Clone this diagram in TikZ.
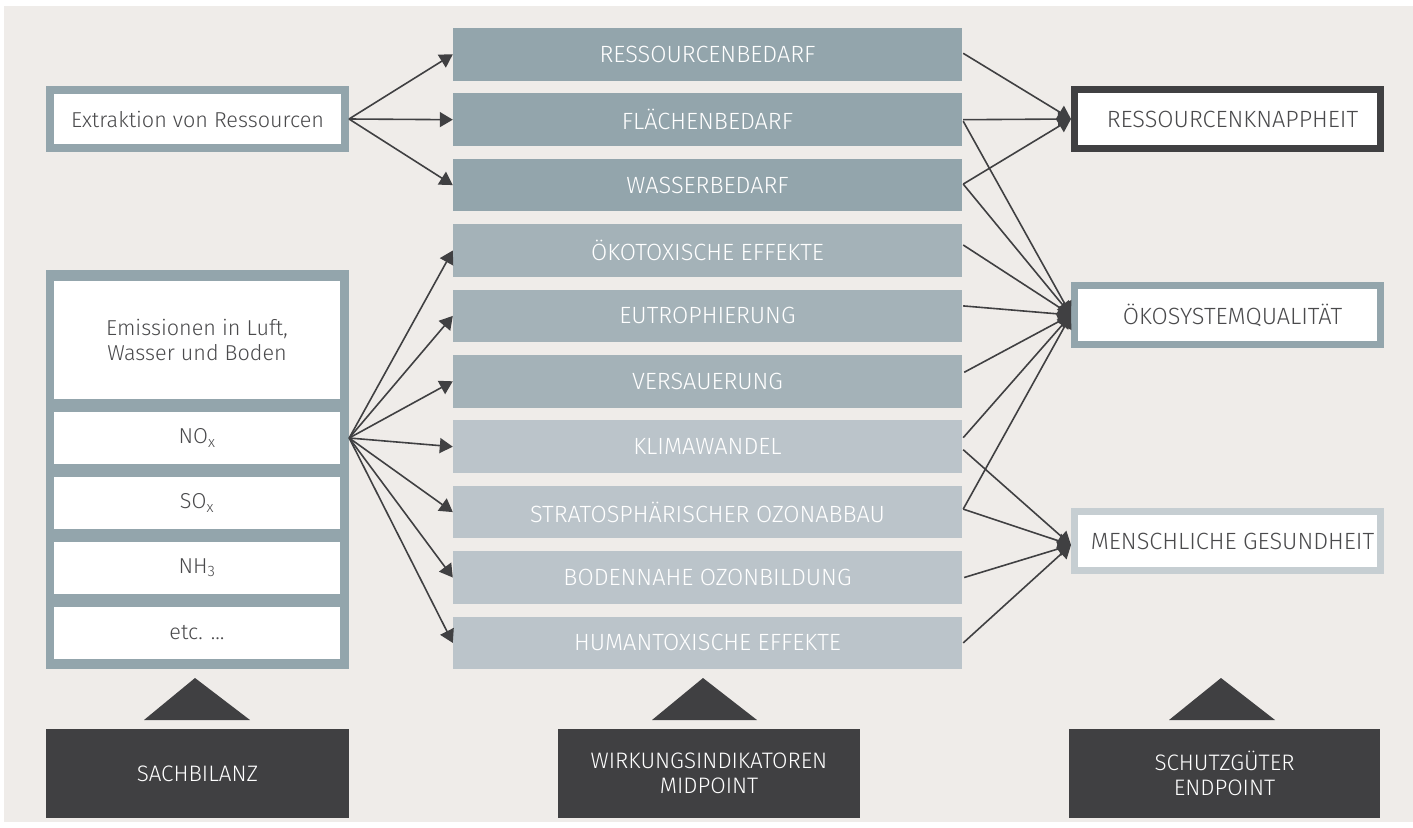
\documentclass[tikz,border=0pt]{standalone}
\usepackage{fontspec}
\setmainfont{Fira Sans Light}
\usetikzlibrary{arrows.meta,calc}
\definecolor{bg}{HTML}{EFECE9}
\definecolor{ca}{HTML}{93A5AC}
\definecolor{cb}{HTML}{A4B2B8}
\definecolor{cc}{HTML}{BBC4CA}
\definecolor{cd}{HTML}{C6CED2}
\definecolor{dk}{HTML}{404042}
\definecolor{tx}{HTML}{4A4A4C}
\begin{document}
\begin{tikzpicture}[x=1pt,y=-1pt,
  mid/.style={minimum width=509pt, minimum height=52.5pt, inner sep=0pt, text=white, font=\fontsize{23.5}{25}\selectfont},
  whitebox/.style={fill=white, inner sep=0pt, text=tx, font=\fontsize{21.6}{25}\selectfont, align=center},
  endbox/.style={fill=white, line width=7pt, minimum width=306pt, minimum height=59pt, inner sep=0pt, text=tx, font=\fontsize{23.5}{25}\selectfont},
  darkbox/.style={fill=dk, text=white, minimum height=89pt, inner sep=0pt, align=center, font=\fontsize{22.4}{25}\selectfont},
  arr/.style={draw=dk, line width=1.6pt, -{Triangle[length=13pt,width=15pt]}}
]
\useasboundingbox (0,0) rectangle (1413,827);
\fill[white] (0,0) rectangle (1413,827);
\fill[bg] (4,6) rectangle (1413,822);

% left column
\node[whitebox, draw=ca, line width=8pt, minimum width=295pt, minimum height=58pt] (ex) at (197.5,119) {Extraktion von Ressourcen};
\node[fill=ca, minimum width=303pt, minimum height=399pt, inner sep=0pt] (em) at (197.5,469.5) {};
\node[whitebox, minimum width=286pt, minimum height=118pt] (emi) at (197,340) {Emissionen in Luft,\\Wasser und Boden};
\node[whitebox, minimum width=286pt, minimum height=52pt] (nox) at (197,438) {NO\textsubscript{x}};
\node[whitebox, minimum width=286pt, minimum height=52pt] (sox) at (197,503) {SO\textsubscript{x}};
\node[whitebox, minimum width=286pt, minimum height=52pt] (nh) at (197,568) {NH\textsubscript{3}};
\node[whitebox, minimum width=286pt, minimum height=52pt] (etc) at (197,633) {etc. \dots};
\coordinate (src) at (em.east |- nox.east);

% middle column
\node[mid, fill=ca] (m0) at (707.5,54.3) {RESSOURCENBEDARF};
\node[mid, fill=ca] (m1) at (707.5,119.7) {FLÄCHENBEDARF};
\node[mid, fill=ca] (m2) at (707.5,185.1) {WASSERBEDARF};
\node[mid, fill=cb] (m3) at (707.5,250.5) {ÖKOTOXISCHE EFFEKTE};
\node[mid, fill=cb] (m4) at (707.5,315.9) {EUTROPHIERUNG};
\node[mid, fill=cb] (m5) at (707.5,381.3) {VERSAUERUNG};
\node[mid, fill=cc] (m6) at (707.5,446.7) {KLIMAWANDEL};
\node[mid, fill=cc] (m7) at (707.5,512.1) {STRATOSPHÄRISCHER OZONABBAU};
\node[mid, fill=cc] (m8) at (707.5,577.5) {BODENNAHE OZONBILDUNG};
\node[mid, fill=cc] (m9) at (707.5,642.9) {HUMANTOXISCHE EFFEKTE};

% right column
\node[endbox, draw=dk] (rk) at (1227.5,119) {\hspace*{10pt}RESSOURCENKNAPPHEIT};
\node[endbox, draw=ca] (oq) at (1227.5,315) {\hspace*{10pt}ÖKOSYSTEMQUALITÄT};
\node[endbox, draw=cd] (mg) at (1227.5,541) {\hspace*{10pt}MENSCHLICHE GESUNDHEIT};
\coordinate (mgt) at ($(mg.west)+(0,4)$);

% left arrows
\draw[arr] (ex.east) -- (m0.west);
\draw[arr] (ex.east) -- (m1.west);
\draw[arr] (ex.east) -- (m2.west);
\foreach \n in {m3,m4,m5,m6,m7,m8,m9}
  \draw[arr] (src) -- (\n.west);

% right arrows
\draw[arr] ($(m0.east)+(1,-1)$) -- (rk.west);
\draw[arr] ($(m1.east)+(1,0)$) -- (rk.west);
\draw[arr] ($(m1.east)+(1,1.5)$) -- (oq.west);
\draw[arr] ($(m2.east)+(1,-1)$) -- (rk.west);
\draw[arr] ($(m2.east)+(1,-1)$) -- (oq.west);
\draw[arr] ($(m3.east)+(1,-5.5)$) -- (oq.west);
\draw[arr] ($(m4.east)+(1,-10)$) -- (oq.west);
\draw[arr] ($(m5.east)+(2,-9)$) -- (oq.west);
\draw[arr] ($(m6.east)+(1,-9)$) -- (oq.west);
\draw[arr] ($(m6.east)+(1,3)$) -- (mgt);
\draw[arr] ($(m7.east)+(1,-3)$) -- (oq.west);
\draw[arr] ($(m7.east)+(1,-3)$) -- (mgt);
\draw[arr] ($(m8.east)+(2,0)$) -- (mgt);
\draw[arr] ($(m9.east)+(1,0)$) -- (mgt);

% bottom
\fill[dk] (195,678) -- (250,720) -- (144,720) -- cycle;
\fill[dk] (703,678) -- (757,720) -- (652,720) -- cycle;
\fill[dk] (1221,678) -- (1275,720) -- (1169,720) -- cycle;
\node[darkbox, minimum width=303pt] (s1) at (197.5,773.5) {SACHBILANZ};
\node[darkbox, minimum width=302pt] (s2) at (709,773.5) {WIRKUNGSINDIKATOREN\\MIDPOINT};
\node[darkbox, minimum width=311pt] (s3) at (1224.5,773.5) {SCHUTZGÜTER\\ENDPOINT};
\end{tikzpicture}
\end{document}
